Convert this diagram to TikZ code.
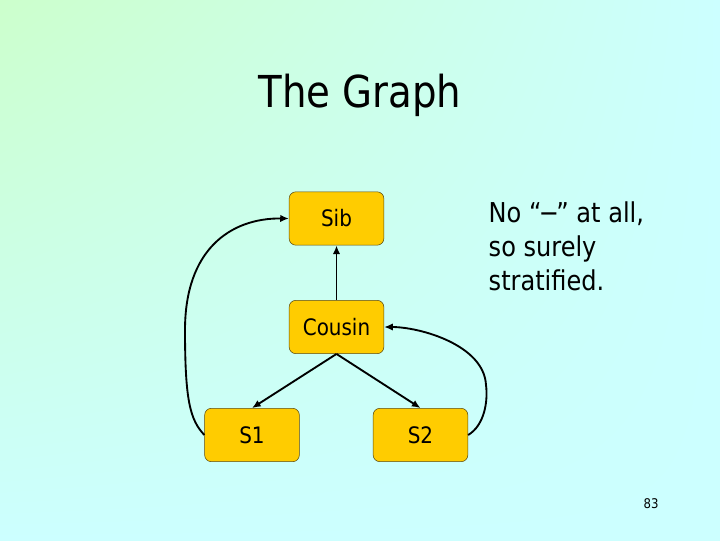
\documentclass[tikz,border=0pt]{standalone}
\usepackage{fontspec}
\setmainfont{DejaVu Sans}[FakeStretch=0.88]
\usetikzlibrary{arrows.meta,positioning,shadings}
\definecolor{bggreen}{HTML}{CCFFCC}
\definecolor{bgcyan}{HTML}{CCFFFF}
\definecolor{pgold}{HTML}{FFCC00}
\definecolor{pgoldd}{HTML}{5A4A10}
\tikzset{
  % gold node with thin dark border
  rel/.style   = {rectangle, rounded corners=5pt, draw=pgoldd, fill=pgold, thin,
                  minimum width=71pt, minimum height=40pt, inner sep=0pt,
                  font=\fontsize{17}{20}\selectfont},
  arr/.style   = {-{Latex[length=6.5pt,width=5.5pt]}, line width=1.4pt, black},
  note/.style  = {font=\fontsize{20.5}{25.5}\selectfont, align=left},
}
\begin{document}
\begin{tikzpicture}[x=0.75pt,y=-0.75pt]
\useasboundingbox (0,0) rectangle (720,540);
\shade[upper left=bggreen, upper right=bgcyan, lower left=bgcyan, lower right=bgcyan]
  (0,0) rectangle (720,540);
\node[anchor=base, font=\fontsize{33}{40}\selectfont] (title) at (360,107) {The Graph};
% relations
\node[rel] (sib)    at (336.5,218.5) {Sib};
\node[rel] (cousin) at (336.5,327)   {Cousin};
\node[rel] (s1)     at (252,435)     {S1};
\node[rel] (s2)     at (420.5,435)   {S2};
\draw[arr] (cousin) -- (sib);
\draw[arr] (cousin.south) -- (s1.north);
\draw[arr] (cousin.south) -- (s2.north);
\draw[arr] (s1.west) .. controls (190,420) and (185,400) .. (185,330)
                     .. controls (185,250) and (230,218) .. (sib.west);
\draw[arr] (s2.east) .. controls (485,425) and (488,400) .. (486,385)
                     .. controls (484,345) and (420,327) .. (cousin.east);
\node[note, anchor=base west] (remark) at (484,290)
  {No “\kern-2pt−\kern-2pt” at all,\\so surely\\stratified.};
\node[font=\fontsize{10}{12}\selectfont] (page) at (651,504) {83};
\end{tikzpicture}
\end{document}
